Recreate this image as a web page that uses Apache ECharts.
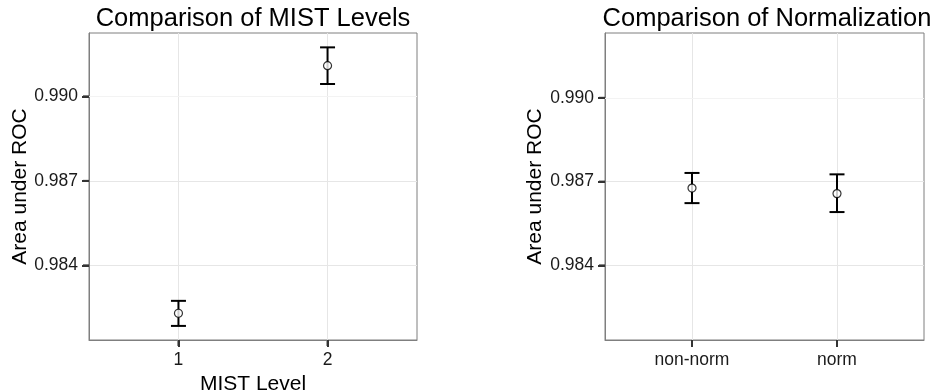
<!DOCTYPE html>
<html>
<head>
<meta charset="utf-8">
<script src="https://cdn.jsdelivr.net/npm/echarts@6/dist/echarts.min.js"></script>
<style>
  html, body { margin: 0; padding: 0; background: #fff; }
  #chart { width: 937px; height: 391px; }
</style>
</head>
<body>
<div id="chart"></div>
<script>
// left panel: MIST level
var mistLevels = ['1', '2']
var mistAuc = [0.98230, 0.99109]
var mistLower = [0.98185, 0.99044]
var mistUpper = [0.98274, 0.99174]

// right panel: normalization
var normGroups = ['non-norm', 'norm']
var normAuc = [0.98677, 0.98657]
var normLower = [0.98623, 0.98591]
var normUpper = [0.98731, 0.98726]

var yTicks = [0.984, 0.987, 0.990]
var yMinor = [0.9825, 0.9855, 0.9885, 0.9915]
var yRanges = [[0.98135, 0.99225], [0.98133, 0.99232]]

var FONT = '"Liberation Sans", Arial, Helvetica, sans-serif'
var chart = echarts.init(document.getElementById('chart'))

function panelSeries(idx, auc, lower, upper) {
  var pts = [], bars = [], minor = []
  for (var i = 0; i < auc.length; i++) {
    pts.push([i + 1, auc[i]])
    bars.push([i + 1, lower[i], upper[i]])
  }
  for (var j = 0; j < yMinor.length; j++) minor.push({yAxis: yMinor[j]})
  return [
    {
      // faint minor grid lines
      type: 'line',
      xAxisIndex: idx, yAxisIndex: idx,
      data: [],
      silent: true,
      z: 1,
      markLine: {
        silent: true, symbol: 'none', animation: false,
        label: {show: false},
        emphasis: {disabled: true},
        lineStyle: {type: 'solid', width: 1, color: '#f3f3f3'},
        data: minor
      }
    },
    {
      type: 'custom',
      xAxisIndex: idx, yAxisIndex: idx,
      data: bars,
      silent: true,
      z: 3,
      renderItem: function (params, api) {
        var lo = api.coord([api.value(0), api.value(1)])
        var hi = api.coord([api.value(0), api.value(2)])
        var w = 7.5
        var st = {stroke: '#000', lineWidth: 2, fill: null}
        return {
          type: 'group',
          children: [
            {type: 'line', shape: {x1: lo[0], y1: lo[1], x2: hi[0], y2: hi[1]}, style: st},
            {type: 'line', shape: {x1: lo[0] - w, y1: lo[1], x2: lo[0] + w, y2: lo[1]}, style: st},
            {type: 'line', shape: {x1: hi[0] - w, y1: hi[1], x2: hi[0] + w, y2: hi[1]}, style: st}
          ]
        }
      }
    },
    {
      type: 'scatter',
      xAxisIndex: idx, yAxisIndex: idx,
      data: pts,
      symbol: 'circle',
      symbolSize: 8,
      z: 4,
      itemStyle: {color: '#fff', borderColor: '#000', borderWidth: 1.2},
      emphasis: {disabled: true}
    }
  ]
}

function xAxisFor(idx, cats, name) {
  return {
    type: 'value', gridIndex: idx, min: 0.4, max: 2.6,
    name: name, nameLocation: 'middle', nameGap: 30,
    nameTextStyle: {fontFamily: FONT, fontSize: 21, color: '#000'},
    axisLine: {show: true, lineStyle: {color: '#7f7f7f', width: 1}},
    splitLine: {show: true, lineStyle: {color: '#e6e6e6', width: 1}},
    axisTick: {show: true, length: 7, customValues: [1, 2], lineStyle: {color: '#333', width: 2}},
    axisLabel: {
      customValues: [1, 2], margin: 11,
      fontFamily: FONT, fontSize: 17.5, color: '#1a1a1a',
      formatter: function (v) { return cats[Math.round(v) - 1] }
    }
  }
}

function yAxisFor(idx, gap) {
  return {
    type: 'value', gridIndex: idx, min: yRanges[idx][0], max: yRanges[idx][1],
    name: 'Area under ROC', nameLocation: 'middle', nameGap: gap,
    nameTextStyle: {fontFamily: FONT, fontSize: 21, color: '#000'},
    axisLine: {show: true, lineStyle: {color: '#7f7f7f', width: 1}},
    splitLine: {show: true, lineStyle: {color: '#e6e6e6', width: 1}},
    axisTick: {show: true, length: 7, customValues: yTicks, lineStyle: {color: '#333', width: 2}},
    axisLabel: {
      customValues: yTicks, margin: 11,
      fontFamily: FONT, fontSize: 17.5, color: '#1a1a1a',
      formatter: function (v) { return v.toFixed(3) }
    }
  }
}

var titles = [
  {type: 'text', x: 253, y: 19, style: {text: 'Comparison of MIST Levels', fontFamily: FONT, fontSize: 25.5, fill: '#000', textAlign: 'center', textVerticalAlign: 'middle'}},
  {type: 'text', x: 767, y: 19, style: {text: 'Comparison of Normalization', fontFamily: FONT, fontSize: 25.5, fill: '#000', textAlign: 'center', textVerticalAlign: 'middle'}}
]

chart.setOption({
  backgroundColor: '#fff',
  animation: false,
  graphic: {elements: titles},
  grid: [
    {left: 89, top: 33, width: 328, height: 307, outerBoundsMode: 'none', show: true, borderColor: '#7f7f7f', borderWidth: 1},
    {left: 605, top: 33, width: 319, height: 307, outerBoundsMode: 'none', show: true, borderColor: '#7f7f7f', borderWidth: 1}
  ],
  xAxis: [
    xAxisFor(0, mistLevels, 'MIST Level'),
    xAxisFor(1, normGroups, '')
  ],
  yAxis: [
    yAxisFor(0, 58),
    yAxisFor(1, 59)
  ],
  series: panelSeries(0, mistAuc, mistLower, mistUpper).concat(panelSeries(1, normAuc, normLower, normUpper))
})

// make sure the outer tick marks show, placed through the axis scales
var ticks = []
var tickStyle = {stroke: '#333', lineWidth: 2}
for (var g = 0; g < 2; g++) {
  for (var k = 0; k < yTicks.length; k++) {
    var p = chart.convertToPixel({gridIndex: g}, [0.4, yTicks[k]])
    ticks.push({type: 'line', silent: true, shape: {x1: p[0] - 6, y1: p[1], x2: p[0], y2: p[1]}, style: tickStyle})
  }
  for (var c = 1; c <= 2; c++) {
    var q = chart.convertToPixel({gridIndex: g}, [c, yRanges[g][0]])
    ticks.push({type: 'line', silent: true, shape: {x1: q[0], y1: q[1], x2: q[0], y2: q[1] + 6}, style: tickStyle})
  }
}
chart.setOption({graphic: {elements: titles.concat(ticks)}})
</script>
</body>
</html>
